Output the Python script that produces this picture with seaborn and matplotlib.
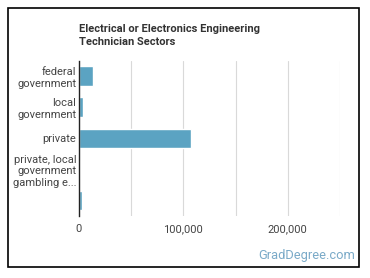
import matplotlib
matplotlib.use("Agg")
import matplotlib.pyplot as plt
import matplotlib.patches as mpatches
from matplotlib.ticker import FuncFormatter, MultipleLocator
import seaborn as sns
import pandas as pd

# data
sectors = ["federal\ngovernment", "local\ngovernment", "private",
           "private, local\ngovernment\ngambling e...", " "]
workers = [13100, 4100, 107800, 600, 2600]
x_ticks = [0, 100000, 200000]

df = pd.DataFrame({"sector": sectors, "workers": workers})

sns.set_theme(style="white")
plt.rcParams["font.family"] = ["Roboto", "DejaVu Sans"]

fig = plt.figure(figsize=(3.70, 2.78), dpi=100)
ax = fig.add_axes([0.2135, 0.223, 0.705, 0.558])

sns.barplot(data=df, y="sector", x="workers", orient="h", color="#5ba3c2",
            saturation=1, width=0.64, ax=ax)

ax.set_xlim(0, 250000)
ax.xaxis.set_minor_locator(MultipleLocator(50000))
ax.set_xticks(x_ticks)
ax.xaxis.set_major_formatter(FuncFormatter(lambda v, p: f"{int(v):,}"))
ax.grid(True, axis="x", which="both", color="#d9d9d9", linewidth=0.8)
ax.set_axisbelow(True)
ax.tick_params(axis="both", which="both", length=0, labelsize=8,
               labelcolor="#444444")
ax.tick_params(axis="y", pad=2)
ax.tick_params(axis="x", pad=6)
ax.set_xlabel("")
ax.set_ylabel("")
for s in ["top", "right", "bottom"]:
    ax.spines[s].set_visible(False)
ax.spines["left"].set_color("#222222")
ax.spines["left"].set_linewidth(1.0)

fig.text(79 / 370, 1 - 35.5 / 278,
         "Electrical or Electronics Engineering\nTechnician Sectors",
         fontsize=8, fontweight="bold", color="#333333", va="center",
         ha="left", linespacing=1.3)

fig.text(355 / 370, 1 - 256 / 278, "GradDegree.com", fontsize=9.3,
         color="#7aaac8", ha="right", va="center")

fig.patches.append(mpatches.Rectangle((8 / 370, 11 / 278), 351 / 370, 259 / 278,
                                      transform=fig.transFigure, fill=False,
                                      edgecolor="black", linewidth=1.2))

fig.savefig("out.png", dpi=100, facecolor="white")
